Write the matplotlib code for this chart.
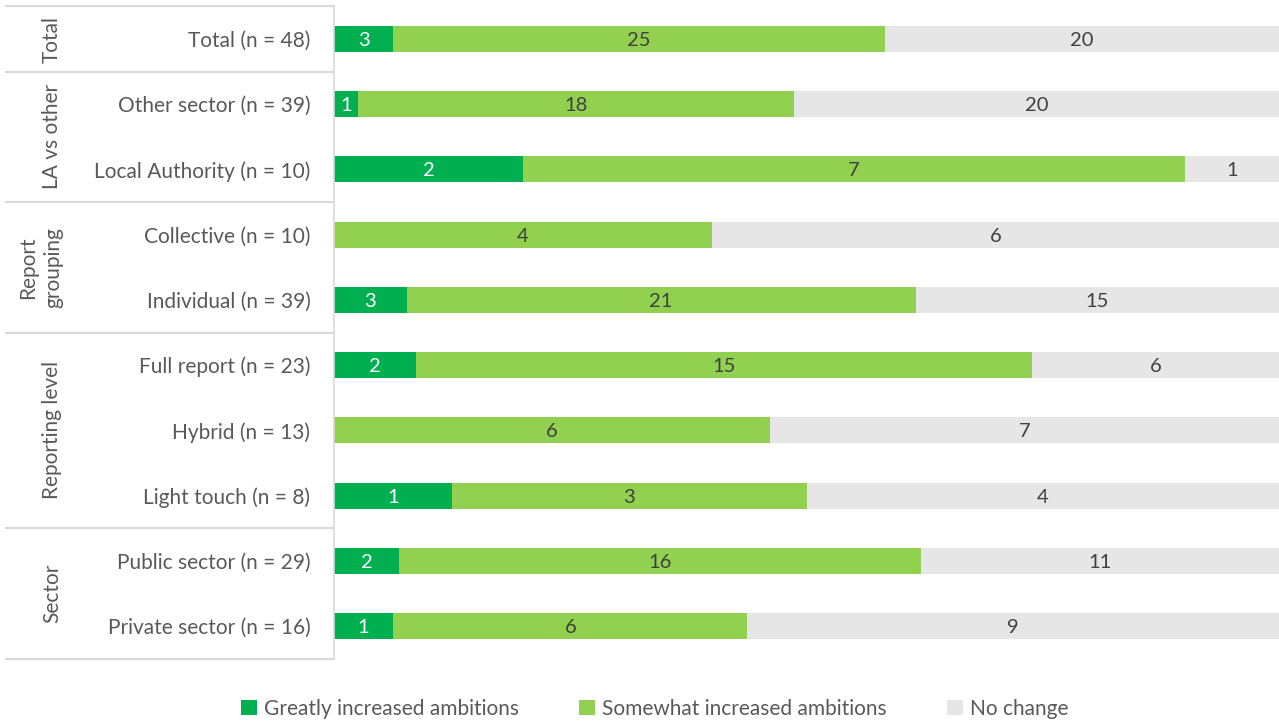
import numpy as np
import matplotlib.pyplot as plt
import matplotlib.transforms as mtransforms
from matplotlib.patches import Patch

# Data
categories = ['Total (n = 48)', 'Other sector (n = 39)', 'Local Authority (n = 10)',
              'Collective (n = 10)', 'Individual (n = 39)', 'Full report (n = 23)',
              'Hybrid (n = 13)', 'Light touch (n = 8)', 'Public sector (n = 29)',
              'Private sector (n = 16)']
greatly = [3, 1, 2, 0, 3, 2, 0, 1, 2, 1]
somewhat = [25, 18, 7, 4, 21, 15, 6, 3, 16, 6]
no_change = [20, 20, 1, 6, 15, 6, 7, 4, 11, 9]
series_names = ['Greatly increased ambitions', 'Somewhat increased ambitions', 'No change']

groups = ['Total', 'LA vs other', 'Report\ngrouping', 'Reporting level', 'Sector']
group_rows = [(0, 0), (1, 2), (3, 4), (5, 7), (8, 9)]

colors = ['#00B050', '#92D050', '#E7E6E6']
text_colors = ['white', '#404040', '#404040']
grey = '#595959'

plt.rcParams['font.family'] = ['Lato', 'DejaVu Sans']

fig = plt.figure(figsize=(12.79, 7.23), dpi=100)
W, H = 1279, 723
ax = fig.add_axes([334 / W, 1 - 658.6 / H, 1 - 334 / W, (658.6 - 6.4) / H])

data = np.array([greatly, somewhat, no_change], dtype=float)
totals = data.sum(axis=0)
shares = data / totals
y = np.arange(len(categories))

left = np.zeros(len(categories))
for k in range(3):
    ax.barh(y, shares[k], left=left, height=0.4, color=colors[k], edgecolor='none')
    for i in range(len(categories)):
        if data[k, i] > 0:
            ax.text(left[i] + shares[k, i] / 2, y[i], str(int(data[k, i])),
                    ha='center', va='center_baseline', fontsize=14.5, color=text_colors[k])
    left += shares[k]

ax.set_xlim(0, 1)
ax.set_ylim(len(categories) - 0.5, -0.5)
ax.set_xticks([])
ax.set_yticks(y)
ax.set_yticklabels(categories, fontsize=15, color=grey)
ax.tick_params(axis='y', length=0, pad=17)
for s in ['top', 'right', 'bottom']:
    ax.spines[s].set_visible(False)
ax.spines['left'].set_color('#D9D9D9')
ax.spines['left'].set_linewidth(1.2)

# table lines on the left
tr = mtransforms.blended_transform_factory(fig.transFigure, ax.transData)
for b in [-0.5, 0.5, 2.5, 4.5, 7.5, 9.5]:
    ax.plot([6 / W, 333 / W], [b, b], transform=tr, color='#D9D9D9',
            lw=1.5, clip_on=False)

# group labels
for name, (a, b) in zip(groups, group_rows):
    ax.text(52 / W if '\n' not in name else 41 / W, (a + b) / 2, name, transform=tr,
            rotation=90, ha='center', va='center', fontsize=15, color=grey,
            multialignment='center', linespacing=1.35)

handles = [Patch(facecolor=c, edgecolor='none') for c in colors]
fig.legend(handles, series_names, loc='center', bbox_to_anchor=(0.512, 1 - 709 / H),
           ncol=3, frameon=False, fontsize=15, labelcolor=grey,
           handlelength=0.75, handleheight=0.75, handletextpad=0.35, columnspacing=2.9)

fig.savefig('out.png', dpi=100)
